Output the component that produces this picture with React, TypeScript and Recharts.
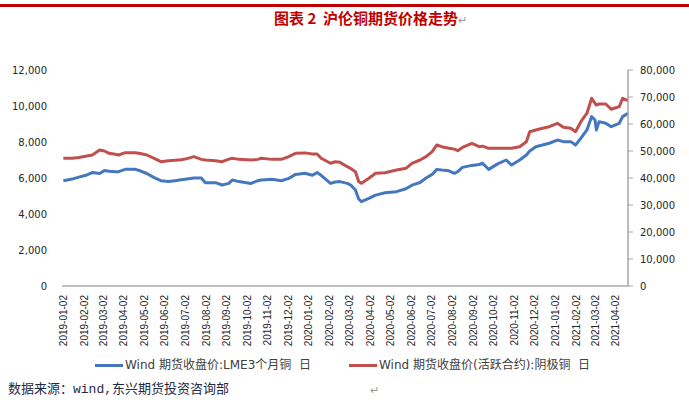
import React from 'react';
import { LineChart, Line, XAxis, YAxis } from 'recharts';

const DATES = [
  '2019-01-02', '2019-01-15', '2019-01-25', '2019-02-06', '2019-02-14', '2019-02-25',
  '2019-03-04', '2019-03-11', '2019-03-20', '2019-03-25', '2019-04-04', '2019-04-19',
  '2019-04-26', '2019-05-06', '2019-05-17', '2019-05-27', '2019-06-07', '2019-06-17',
  '2019-06-26', '2019-07-02', '2019-07-15', '2019-07-26', '2019-08-01', '2019-08-16',
  '2019-08-26', '2019-09-05', '2019-09-10', '2019-09-20', '2019-10-08', '2019-10-18',
  '2019-10-23', '2019-11-08', '2019-11-22', '2019-12-03', '2019-12-13', '2019-12-27',
  '2020-01-07', '2020-01-14', '2020-01-20', '2020-02-03', '2020-02-10', '2020-02-17',
  '2020-02-28', '2020-03-04', '2020-03-11', '2020-03-16', '2020-03-20', '2020-03-31',
  '2020-04-10', '2020-04-24', '2020-05-11', '2020-05-25', '2020-06-03', '2020-06-15',
  '2020-06-24', '2020-07-03', '2020-07-10', '2020-07-17', '2020-07-28', '2020-08-05',
  '2020-08-10', '2020-08-17', '2020-08-31', '2020-09-11', '2020-09-16', '2020-09-25',
  '2020-10-09', '2020-10-21', '2020-10-29', '2020-11-10', '2020-11-20', '2020-11-25',
  '2020-12-04', '2020-12-14', '2020-12-24', '2021-01-05', '2021-01-14', '2021-01-25',
  '2021-02-01', '2021-02-09', '2021-02-18', '2021-02-25', '2021-03-02', '2021-03-04',
  '2021-03-08', '2021-03-18', '2021-03-26', '2021-04-07', '2021-04-12', '2021-04-20',
];

// LME 3个月铜 (左轴)
const LME = [
  5850, 5940, 6050, 6170, 6300, 6250, 6420, 6380, 6350, 6350, 6480, 6480,
  6400, 6250, 6020, 5850, 5800, 5850, 5900, 5930, 6000, 6000, 5740, 5740,
  5610, 5700, 5890, 5800, 5700, 5850, 5890, 5930, 5850, 5980, 6200, 6260,
  6150, 6300, 6150, 5700, 5780, 5800, 5700, 5610, 5330, 4820, 4690, 4870,
  5050, 5180, 5240, 5400, 5600, 5750, 6000, 6200, 6480, 6440, 6400, 6260,
  6350, 6590, 6700, 6750, 6820, 6480, 6800, 7000, 6720, 7000, 7280, 7500,
  7740, 7830, 7930, 8110, 8020, 8020, 7830, 8210, 8670, 9410, 9220, 8670,
  9130, 9040, 8850, 9040, 9410, 9590,
];

// 沪铜活跃合约 (右轴)
const SHFE = [
  47300, 47300, 47600, 48150, 48520, 50370, 50000, 49150, 48800, 48520, 49370, 49370,
  49100, 48520, 47300, 46050, 46420, 46600, 46800, 47000, 47900, 46900, 46670, 46420,
  46050, 47000, 47300, 46900, 46670, 46900, 47300, 46900, 46900, 47900, 49150, 49300,
  48900, 48900, 47300, 45450, 46000, 45800, 44190, 43500, 42340, 38630, 38040, 39890,
  41740, 41960, 42970, 43590, 45450, 46670, 47900, 49740, 52230, 51600, 51000, 50700,
  50120, 51300, 52860, 51600, 51800, 51000, 51000, 51000, 51000, 51600, 53450, 57150,
  57780, 58410, 59010, 60270, 58800, 58410, 57150, 60860, 64000, 69530, 67670, 67040,
  67400, 67410, 65450, 66410, 69530, 68630,
];

const X_TICKS = [
  '2019-01-02', '2019-02-02', '2019-03-02', '2019-04-02', '2019-05-02', '2019-06-02', '2019-07-02',
  '2019-08-02', '2019-09-02', '2019-10-02', '2019-11-02', '2019-12-02', '2020-01-02', '2020-02-02',
  '2020-03-02', '2020-04-02', '2020-05-02', '2020-06-02', '2020-07-02', '2020-08-02', '2020-09-02',
  '2020-10-02', '2020-11-02', '2020-12-02', '2021-01-02', '2021-02-02', '2021-03-02', '2021-04-02',
];
const LEFT_TICKS = [0, 2000, 4000, 6000, 8000, 10000, 12000];
const RIGHT_TICKS = [0, 10000, 20000, 30000, 40000, 50000, 60000, 70000, 80000];

const BLUE = '#4577BF';
const RED = '#C0504D';

const toTime = (s: string) => Date.parse(s + 'T00:00:00Z');
const data = DATES.map((d, i) => ({ t: toTime(d), lme: LME[i], shfe: SHFE[i] }));
const fmt = (v: number) => v.toLocaleString('en-US');

const DateTick = (props: any) => {
  const { x, y, payload } = props;
  const d = new Date(payload.value).toISOString().slice(0, 10);
  return (
    <text
      x={x}
      y={y}
      dy="0.35em"
      textAnchor="end"
      transform={`rotate(-90, ${x}, ${y})`}
      fontSize={10}
      fontFamily='"Liberation Sans", Arial, sans-serif'
      fill="#262626"
    >
      {d}
    </text>
  );
};

const LegendItem = ({ color, label, left }: { color: string; label: string; left: number }) => (
  <div style={{ position: 'absolute', left, top: 0, display: 'flex', alignItems: 'center', whiteSpace: 'pre' }}>
    <span style={{ display: 'inline-block', width: 28, height: 3, background: color, marginRight: 2 }} />
    <span>{label}</span>
  </div>
);

export default function App() {
  return (
    <div
      style={{
        position: 'absolute',
        left: 0,
        top: 0,
        width: 689,
        height: 409,
        background: '#fff',
        overflow: 'hidden',
      }}
    >
      <div style={{ position: 'absolute', left: 0, top: 4, width: 689, height: 3, background: '#C00000' }} />
      <div
        style={{
          position: 'absolute',
          left: 274,
          top: 8,
          color: '#C00000',
          fontWeight: 'bold',
          fontSize: 15,
          fontFamily: '"Noto Sans CJK SC", sans-serif',
          whiteSpace: 'pre',
          lineHeight: '20px',
        }}
      >
        {'图表 2  沪伦铜期货价格走势'}
        <span style={{ color: '#999', fontWeight: 'normal', fontSize: 11 }}>↵</span>
      </div>

      <div style={{ position: 'absolute', left: 0, top: 0 }}>
        <LineChart width={689} height={409} data={data} margin={{ top: 70, right: 0, bottom: 63, left: 12 }}>
          <XAxis
            dataKey="t"
            type="number"
            scale="time"
            domain={[toTime('2018-12-31'), toTime('2021-04-20')]}
            ticks={X_TICKS.map(toTime)}
            interval={0}
            height={60}
            axisLine={{ stroke: '#BFBFBF', strokeWidth: 2 }}
            tickLine={false}
            tickSize={0}
            tickMargin={9}
            tick={<DateTick />}
          />
          <YAxis
            yAxisId="left"
            orientation="left"
            width={50}
            domain={[0, 12000]}
            ticks={LEFT_TICKS}
            interval={0}
            axisLine={false}
            tickLine={false}
            tickSize={0}
            tickMargin={15}
            tickFormatter={fmt}
            tick={{ fontSize: 10, fill: '#262626', fontFamily: '"DejaVu Sans", sans-serif' }}
          />
          <YAxis
            yAxisId="right"
            orientation="right"
            width={61}
            domain={[0, 80000]}
            ticks={RIGHT_TICKS}
            interval={0}
            axisLine={{ stroke: '#A6A6A6', strokeWidth: 1.5 }}
            tickLine={{ stroke: '#A6A6A6' }}
            tickSize={5}
            tickMargin={7}
            tickFormatter={fmt}
            tick={{ fontSize: 10, fill: '#262626', fontFamily: '"DejaVu Sans", sans-serif', textAnchor: 'start' }}
          />
          <Line
            yAxisId="left"
            type="linear"
            dataKey="lme"
            stroke={BLUE}
            strokeWidth={3}
            strokeLinejoin="round"
            dot={false}
            isAnimationActive={false}
          />
          <Line
            yAxisId="right"
            type="linear"
            dataKey="shfe"
            stroke={RED}
            strokeWidth={3}
            strokeLinejoin="round"
            dot={false}
            isAnimationActive={false}
          />
        </LineChart>
      </div>

      <div
        style={{
          position: 'absolute',
          left: 0,
          top: 357,
          width: 689,
          height: 16,
          fontSize: 12,
          lineHeight: '16px',
          color: '#404040',
          fontFamily: '"DejaVu Sans", "Noto Sans CJK SC", sans-serif',
        }}
      >
        <LegendItem color={BLUE} label="Wind 期货收盘价:LME3个月铜  日" left={95} />
        <LegendItem color={RED} label="Wind 期货收盘价(活跃合约):阴极铜  日" left={349} />
      </div>

      <div
        style={{
          position: 'absolute',
          left: 8,
          top: 381,
          fontSize: 13,
          lineHeight: '18px',
          color: '#1F2A44',
          fontFamily: '"Liberation Mono", "Noto Sans CJK SC", monospace',
          whiteSpace: 'nowrap',
        }}
      >
        数据来源：wind,东兴期货投资咨询部
      </div>
      <div style={{ position: 'absolute', left: 370, top: 384, fontSize: 11, color: '#999' }}>↵</div>
    </div>
  );
}
